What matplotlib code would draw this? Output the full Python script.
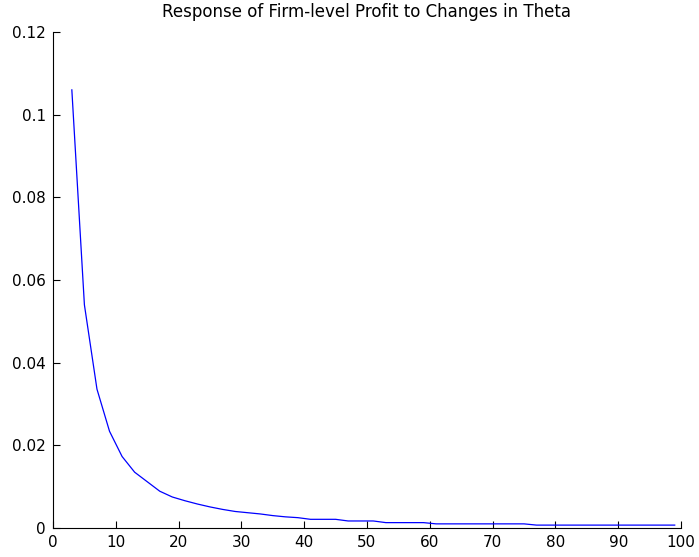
import numpy as np
import matplotlib
matplotlib.use('Agg')
import matplotlib.pyplot as plt

plt.rcParams['font.family'] = ['DejaVu Sans']

# theta grid and firm-level profit response
theta = [3, 5, 7, 9, 11, 13, 15, 17, 19, 21, 23, 25, 27, 29, 31, 33, 35, 37, 39,
         41, 43, 45, 47, 49, 51, 53, 55, 57, 59, 61, 63, 65, 67, 69, 71, 73, 75,
         77, 79, 81, 83, 85, 87, 89, 91, 93, 95, 97, 99]
profit = [0.106, 0.054, 0.0336, 0.0234, 0.0173, 0.0135, 0.0112, 0.0089, 0.0075,
          0.0066, 0.0058, 0.0051, 0.0045, 0.0040, 0.0037, 0.0034, 0.0030, 0.0027,
          0.0025, 0.0021, 0.0021, 0.0021, 0.0017, 0.0017, 0.0017, 0.0013, 0.0013,
          0.0013, 0.0013, 0.0010, 0.0010, 0.0010, 0.0010, 0.0010, 0.0010, 0.0010,
          0.0010, 0.0007, 0.0007, 0.0007, 0.0007, 0.0007, 0.0007, 0.0007, 0.0007,
          0.0007, 0.0007, 0.0007, 0.0007]

fig = plt.figure(figsize=(6.99, 5.57), dpi=100)
ax = fig.add_axes([53 / 699, 1 - 528 / 557, 628 / 699, 496 / 557])

ax.plot(theta, profit, color='#0000ff', linewidth=0.9)

ax.set_xlim(0, 100)
ax.set_ylim(0, 0.12)
ax.set_xticks(np.arange(0, 101, 10))
ax.set_yticks([0, 0.02, 0.04, 0.06, 0.08, 0.1, 0.12])
ax.set_yticklabels(['0', '0.02', '0.04', '0.06', '0.08', '0.1', '0.12'])

ax.spines['top'].set_visible(False)
ax.spines['right'].set_visible(False)
for s in ('left', 'bottom'):
    ax.spines[s].set_linewidth(0.8)
ax.tick_params(direction='in', length=5, width=0.8, labelsize=11, pad=5)

ax.set_title('Response of Firm-level Profit to Changes in Theta', fontsize=12, pad=11)

fig.savefig('out.png', dpi=100)
